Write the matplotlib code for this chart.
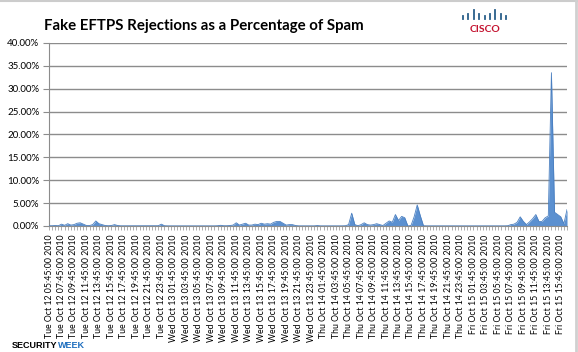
import matplotlib
matplotlib.use("Agg")
import matplotlib.pyplot as plt
import pandas as pd
import numpy as np
from matplotlib.lines import Line2D

# half-hourly samples, Tue Oct 12 05:45 -> Fri Oct 15 16:45 (2010)
times = pd.date_range("2010-10-12 05:45", periods=167, freq="30min")
categories = [t.strftime("%a %b %d %H:%M:%S %Y") for t in times]

# fake EFTPS rejections, % of spam
pct = [
    0.05, 0.05, 0.1, 0.05, 0.4, 0.15, 0.5, 0.2, 0.3, 0.6,
    0.7, 0.4, 0.1, 0.1, 0.3, 1.1, 0.5, 0.3, 0.1, 0.05,
    0.1, 0.3, 0.1, 0.03, 0.03, 0.03, 0.03, 0.03, 0.03, 0.03,
    0.03, 0.03, 0.03, 0.03, 0.03, 0.05, 0.4, 0.05, 0.02, 0.02,
    0.02, 0.02, 0.02, 0.02, 0.02, 0.02, 0.02, 0.02, 0.02, 0.02,
    0.02, 0.02, 0.02, 0.02, 0.05, 0.15, 0.05, 0.05, 0.1, 0.2,
    0.7, 0.2, 0.4, 0.6, 0.2, 0.2, 0.4, 0.3, 0.6, 0.4,
    0.5, 0.4, 0.8, 1.0, 1.0, 0.6, 0.2, 0.3, 0.3, 0.1,
    0.02, 0.02, 0.02, 0.02, 0.02, 0.02, 0.1, 0.02, 0.02, 0.02,
    0.02, 0.02, 0.02, 0.02, 0.02, 0.05, 0.3, 2.8, 0.3, 0.05,
    0.3, 0.7, 0.3, 0.2, 0.3, 0.5, 0.3, 0.1, 0.6, 1.1,
    0.8, 2.5, 1.2, 2.1, 1.8, 0.0, 0.1, 2.0, 4.6, 2.2,
    0.05, 0.02, 0.02, 0.02, 0.02, 0.02, 0.02, 0.02, 0.02, 0.02,
    0.02, 0.02, 0.02, 0.02, 0.02, 0.02, 0.02, 0.02, 0.02, 0.02,
    0.02, 0.02, 0.02, 0.02, 0.02, 0.02, 0.02, 0.05, 0.3, 0.4,
    0.8, 2.0, 1.0, 0.3, 0.9, 1.6, 2.5, 1.0, 1.0, 1.8,
    2.2, 33.5, 3.0, 2.5, 2.0, 0.5, 3.6,
]

yticks = [0, 5, 10, 15, 20, 25, 30, 35, 40]

plt.rcParams["font.family"] = ["Lato", "DejaVu Sans"]

fig = plt.figure(figsize=(5.78, 3.52), dpi=100)
ax = fig.add_axes([0.0848, 0.358, 0.8962, 0.520])

x = np.arange(len(pct))
ax.fill_between(x, pct, color="#5b90d0", lw=0, zorder=2)
ax.plot(x, pct, color="#4a7fc0", lw=0.6, zorder=3)

ax.set_xlim(0, len(pct) - 1)
ax.set_ylim(0, 40)
ax.set_yticks(yticks)
ax.set_yticklabels([f"{v:.2f}%" for v in yticks])
ax.yaxis.grid(True, color="#8c8c8c", lw=1)
ax.set_axisbelow(True)

ax.set_xticks(x)
ax.set_xticklabels([c if i % 4 == 0 else "" for i, c in enumerate(categories)],
                   rotation=90)

for s in ["top", "right"]:
    ax.spines[s].set_visible(False)
for s in ["left", "bottom"]:
    ax.spines[s].set_color("#8c8c8c")
ax.tick_params(axis="y", length=4, color="#8c8c8c", labelsize=7, pad=3)
ax.tick_params(axis="x", length=3, color="#a0a0a0", width=0.6, labelsize=6.3, pad=3)

fig.text(0.076, 0.925, "Fake EFTPS Rejections as a Percentage of Spam",
         fontsize=10.8, fontweight="bold", ha="left", va="center")

# cisco logo
heights = [0.3, 0.6, 1.0, 0.6, 0.3, 0.6, 1.0, 0.6, 0.3]
for i, h in enumerate(heights):
    bx = (463 + i * 5.4) / 578
    fig.add_artist(Line2D([bx, bx], [1 - 19 / 352, 1 - (19 - 9 * h) / 352],
                          color="#2a5f8a", lw=1.3))
fig.text(485 / 578, 1 - 29 / 352, "CISCO", color="#c4122f", fontsize=7.5,
         fontweight="bold", ha="center", va="center")

# watermark
t1 = fig.text(12 / 578, 1 - 346 / 352, "SECURITY", fontsize=6.5, fontweight="bold",
              family="Liberation Sans", ha="left", va="center")
fig.canvas.draw()
bb = t1.get_window_extent().transformed(fig.transFigure.inverted())
fig.text(bb.x1, 1 - 346 / 352, "WEEK", fontsize=6.5, fontweight="bold",
         family="Liberation Sans", color="#1f6fbf", ha="left", va="center")

# frame edges
fig.add_artist(Line2D([0, 1], [0.998, 0.998], color="#cccccc", lw=1.5))
fig.add_artist(Line2D([575.5 / 578, 575.5 / 578], [0, 1], color="#d0d0d0", lw=2))

fig.savefig("out.png", dpi=100)
